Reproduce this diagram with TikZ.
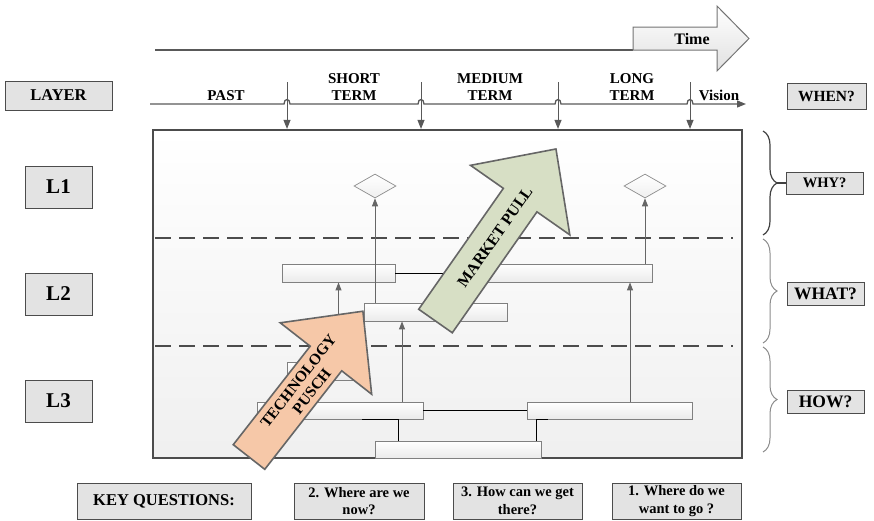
\documentclass[tikz,border=0pt]{standalone}
\usepackage{fontspec}
\setmainfont{Liberation Serif}
\usetikzlibrary{arrows.meta,shapes.geometric,decorations.pathreplacing}

\definecolor{push}{HTML}{F6C8A8}
\definecolor{pull}{HTML}{D7DFC5}

\tikzset{
  lbl/.style={font=\bfseries\fontsize{15}{17}\selectfont, align=center},
  qbox/.style={draw=black!70, fill=black!11, line width=0.8pt, inner sep=0pt, align=center,
    font=\bfseries\fontsize{14.5}{17.5}\selectfont},
  lbox/.style={qbox, minimum width=67pt, minimum height=42pt, font=\bfseries\fontsize{21}{23}\selectfont},
  bar/.style={draw=black!50, line width=0.8pt, top color=white, bottom color=black!8,
    inner sep=0pt, minimum height=18pt},
  goal/.style={diamond, draw=black!45, line width=0.7pt, top color=white, bottom color=black!6,
    minimum width=42pt, minimum height=24pt, inner sep=0pt},
  up/.style={draw=black!60, line width=0.9pt, -{Triangle[length=8pt,width=6pt]}},
  link/.style={draw=black, line width=0.7pt},
  down/.style={draw=black!65, line width=1pt, -{Triangle[length=9pt,width=7pt]}},
  sep/.style={draw=black!70, line width=2.6pt, dash pattern=on 16pt off 8pt},
  brc/.style={decorate, decoration={brace, amplitude=14pt}},
  bigarrow/.style={draw=black!60, line width=1.6pt},
}

\begin{document}
\begin{tikzpicture}[x=1pt, y={(0,-1pt)}]
\useasboundingbox (0,0) rectangle (874,520);

% time axis
\coordinate (tstart) at (155,50);
\coordinate (tend) at (633,50);
\draw[draw=black!65, line width=1.3pt] (tstart) -- (tend);
\draw[draw=black!55, line width=1pt, top color=white, bottom color=black!12]
  (633,27) -- (717,27) -- (717,6) -- (749,38.5) -- (717,71) -- (717,50) -- (633,50) -- cycle;
\node (time) at (692,39) [lbl, font=\bfseries\fontsize{16}{18}\selectfont] {Time};

\node (layer) at (58.5,95.5) [qbox, minimum width=107pt, minimum height=29pt,
  font=\bfseries\fontsize{16.5}{18}\selectfont] {LAYER};
\node (when) at (826.5,96) [qbox, minimum width=79pt, minimum height=26pt,
  font=\bfseries\fontsize{15.5}{17}\selectfont] {WHEN?};

\node (past) at (226,96) [lbl] {PAST};
\node (short) at (354,87) [lbl] {SHORT\\TERM};
\node (medium) at (490,87) [lbl] {MEDIUM\\TERM};
\node (long) at (632,87) [lbl] {LONG\\TERM};
\node (vision) at (719,95) [lbl] {Vision};

% roadmap frame
\node (frame) at (447.5,294) [draw=black!70, line width=2.2pt, top color=white, bottom color=black!6,
  minimum width=589pt, minimum height=328pt, inner sep=0pt] {};

\coordinate (ls) at (150,104);
\coordinate (le) at (746,104);
\draw[draw=black!65, line width=1.3pt, -{Triangle[length=9pt,width=7pt]}] (ls)
  \foreach \x in {287,421,558,690} { -- (\x-3,104) .. controls (\x-3,98) and (\x+3,98) .. (\x+3,104) } -- (le);
\foreach \x [count=\i] in {287,421,558,690} {
  \coordinate (v\i) at (\x,82);
  \draw[down] (v\i) -- (v\i |- frame.north);
}

\draw[sep] (155,238) -- (733,238);
\draw[sep] (155,346) -- (733,346);

% layers
\node (l1) at (58.5,187) [lbox] {L1};
\node (l2) at (58.5,294) [lbox] {L2};
\node (l3) at (58.5,401) [lbox] {L3};

% bars and goals
\node (d1) at (375,186) [goal] {};
\node (d2) at (645,186) [goal] {};
\node (r2a) at (338.5,273) [bar, minimum width=113pt] {};
\node (r2b) at (558.5,273) [bar, minimum width=187pt] {};
\node (r2c) at (435.5,312) [bar, minimum width=143pt] {};
\node (sr) at (319.5,371) [bar, minimum width=65pt] {};
\node (r3a) at (340,410.5) [bar, minimum width=166pt, minimum height=17pt] {};
\node (r3b) at (609.5,410.5) [bar, minimum width=165pt, minimum height=17pt] {};
\node (r3c) at (458,449.5) [bar, minimum width=166pt, minimum height=17pt] {};

\draw[link] (r2a.east) -- (r2b.west);
\draw[link] (r3a.east) -- (r3b.west);
\draw[link] ([xshift=-60pt]r3c.north) |- ([xshift=22pt]r3a.south);
\draw[link] ([xshift=78pt]r3c.north) |- ([xshift=-61.5pt]r3b.south);

\draw[up] (r2a.south |- sr.north) -- (r2a.south);
\draw[up] (d1.south |- r2c.north) -- (d1.south);
\draw[up] ([xshift=62pt]r3a.north) -- ([xshift=62pt]r3a.north |- r2c.south);
\draw[up] ([xshift=20.5pt]r3b.north) -- ([xshift=20.5pt]r3b.north |- r2b.south);
\draw[up] (d2.south |- r2b.north) -- (d2.south);

% push and pull
\begin{scope}[shift={(249,457)}, rotate=52]
  \draw[bigarrow, fill=push] (0,-20) -- (125,-20) -- (125,-58) -- (185,0) -- (125,58) -- (125,20) -- (0,20) -- cycle;
\end{scope}
\begin{scope}[shift={(435.5,321)}, rotate=55]
  \draw[bigarrow, fill=pull] (0,-20.5) -- (147.6,-20.5) -- (147.6,-60.6) -- (210,0) -- (147.6,60.6) -- (147.6,20.5) -- (0,20.5) -- cycle;
\end{scope}
\node (tpush) at (305,386) [lbl, rotate=52, font=\bfseries\fontsize{15.5}{17}\selectfont] {TECHNOLOGY\\PUSCH};
\node (mpull) at (495,237) [lbl, rotate=55, font=\bfseries\fontsize{16}{18}\selectfont] {MARKET PULL};

% questions on the right
\node (why) at (824.5,183) [qbox, minimum width=77pt, minimum height=22pt] {WHY?};
\node (what) at (825.5,293.5) [qbox, minimum width=77pt, minimum height=23pt,
  font=\bfseries\fontsize{17.5}{19}\selectfont] {WHAT?};
\node (how) at (825.5,401.5) [qbox, minimum width=77pt, minimum height=23pt,
  font=\bfseries\fontsize{17.5}{19}\selectfont] {HOW?};

\draw[brc, draw=black!75, line width=1.2pt] (763,131) -- (763,235);
\draw[brc, draw=black!45, line width=1pt] (763,239) -- (763,343);
\draw[brc, draw=black!45, line width=1pt] (763,347) -- (763,452);
\coordinate (b1) at (777,183);
\draw[draw=black!75, line width=1.2pt] (b1) -- (why.west);

% key questions
\node (keyq) at (164,501) [qbox, minimum width=174pt, minimum height=36pt,
  font=\bfseries\fontsize{16.5}{18}\selectfont] {KEY QUESTIONS:};
\node (now) at (359,501) [qbox, minimum width=130pt, minimum height=36pt] {2. Where are we\\now?};
\node (there) at (517.5,501) [qbox, minimum width=129pt, minimum height=36pt] {3. How can we get\\there?};
\node (togo) at (676.5,501) [qbox, minimum width=129pt, minimum height=36pt] {1. Where do we\\want to go ?};
\end{tikzpicture}
\end{document}
